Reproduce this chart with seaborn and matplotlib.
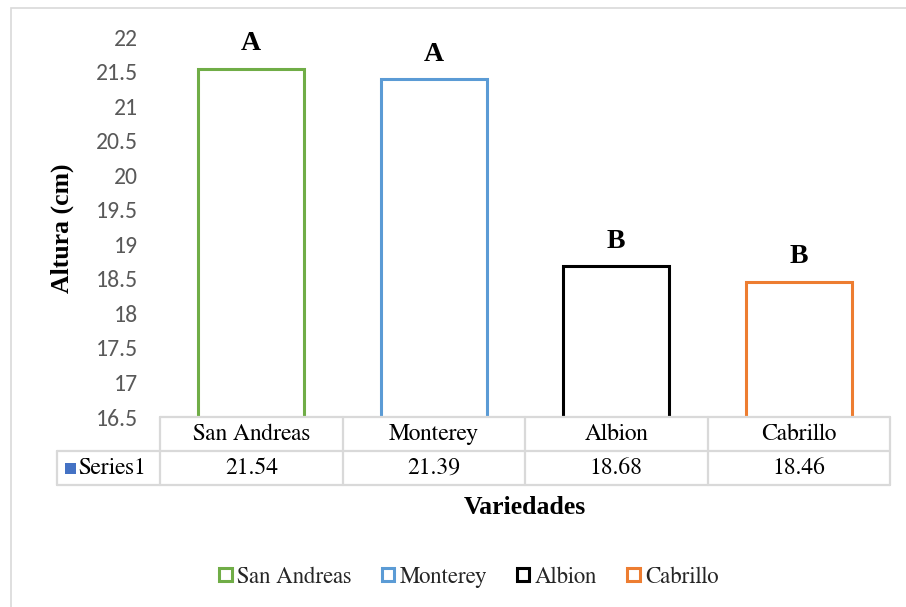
import matplotlib
matplotlib.use("Agg")
import matplotlib.pyplot as plt
from matplotlib.patches import Patch, Rectangle
from matplotlib.transforms import blended_transform_factory
from matplotlib import font_manager as fm
import seaborn as sns
import pandas as pd

# Data
variedades = ["San Andreas", "Monterey", "Albion", "Cabrillo"]
altura = [21.54, 21.39, 18.68, 18.46]
letras = ["A", "A", "B", "B"]
colores = ["#70AD47", "#5B9BD5", "#000000", "#ED7D31"]
serie = "Series1"
yticks = [16.5, 17, 17.5, 18, 18.5, 19, 19.5, 20, 20.5, 21, 21.5, 22]

df = pd.DataFrame({"Variedad": variedades, "Altura": altura})

sns.set_theme(style="white")
reg = fm.FontProperties(family="FreeSerif")
bold = fm.FontProperties(family="Liberation Serif", weight="bold")
tick_font = fm.FontProperties(family="Carlito", size=17)

W, H = 906, 607
fig = plt.figure(figsize=(W / 100, H / 100), dpi=100)

# Outer chart border
fig.add_artist(Rectangle((11 / W, -0.01), 1.0, 1 - 8 / H + 0.01,
                         transform=fig.transFigure, fill=False,
                         edgecolor="#d9d9d9", linewidth=1.2))

left, right, top, bottom = 160, 890, 37, 417
ax = fig.add_axes([left / W, 1 - bottom / H, (right - left) / W, (bottom - top) / H])

sns.barplot(data=df, x="Variedad", y="Altura", hue="Variedad",
            palette=colores, fill=False, linewidth=2.2, width=0.58,
            legend=False, ax=ax)
for patch, c in zip(ax.patches, colores):
    patch.set_edgecolor(c)
    patch.set_facecolor("none")

ax.set_xlim(-0.5, 3.5)
ax.set_ylim(16.5, 22)
ax.set_yticks(yticks)
ax.set_yticklabels([f"{t:g}" for t in yticks], fontproperties=tick_font,
                   color="#595959")
ax.tick_params(axis="y", length=0, pad=16)
ax.set_xticks([])
ax.set_xlabel("")
ax.set_ylabel("")
for s in ax.spines.values():
    s.set_visible(False)

# Significance letters above bars
for i, (v, l) in enumerate(zip(altura, letras)):
    ax.annotate(l, (i, v), xytext=(0, 9), textcoords="offset points",
                ha="center", va="bottom", fontproperties=bold, fontsize=20,
                color="black")

# Data table below the plot
tr = blended_transform_factory(ax.transData, ax.transAxes)
row_h = 34 / (bottom - top)
gc = "#d9d9d9"
lw = 1.6
xl = -0.5 - (left - 57) / ((right - left) / 4)
ax.plot([-0.5, 3.5], [0, 0], transform=tr, color=gc, lw=lw, clip_on=False)
ax.plot([xl, 3.5], [-row_h, -row_h], transform=tr, color=gc, lw=lw, clip_on=False)
ax.plot([xl, 3.5], [-2 * row_h, -2 * row_h], transform=tr, color=gc, lw=lw, clip_on=False)
ax.plot([xl, xl], [-row_h, -2 * row_h], transform=tr, color=gc, lw=lw, clip_on=False)
for xb in [-0.5, 0.5, 1.5, 2.5, 3.5]:
    ax.plot([xb, xb], [0, -2 * row_h], transform=tr, color=gc, lw=lw, clip_on=False)
for i, (n, v) in enumerate(zip(variedades, altura)):
    ax.text(i, -0.5 * row_h, n, transform=tr, ha="center", va="center",
            fontproperties=reg, fontsize=17, color="black")
    ax.text(i, -1.5 * row_h, f"{v:.2f}", transform=tr, ha="center", va="center",
            fontproperties=reg, fontsize=17, color="black")
# Series key cell
fig.add_artist(Rectangle((65 / W, 1 - 474 / H), 11 / W, 11 / H,
                         transform=fig.transFigure, facecolor="#4472C4",
                         edgecolor="none"))
fig.text(78 / W, 1 - 468 / H, serie, ha="left", va="center",
         fontproperties=reg, fontsize=17, color="black")

# Axis titles
fig.text(525 / W, 1 - 507 / H, "Variedades", ha="center", va="center",
         fontproperties=bold, fontsize=18.5, color="black")
fig.text(62 / W, 1 - 228 / H, "Altura (cm)", ha="center", va="center",
         rotation=90, fontproperties=bold, fontsize=18.5, color="black")

# Legend
handles = [Patch(facecolor="white", edgecolor=c, linewidth=2.2, label=n)
           for n, c in zip(variedades, colores)]
leg_prop = fm.FontProperties(family="FreeSerif", size=16.5)
fig.legend(handles=handles, loc="center", bbox_to_anchor=(469 / W, 1 - 577 / H),
           ncol=4, frameon=False, prop=leg_prop,
           handlelength=0.55, handleheight=0.55, handletextpad=0.25,
           columnspacing=1.3, borderaxespad=0)

fig.savefig("out.png", dpi=100, facecolor="white")
